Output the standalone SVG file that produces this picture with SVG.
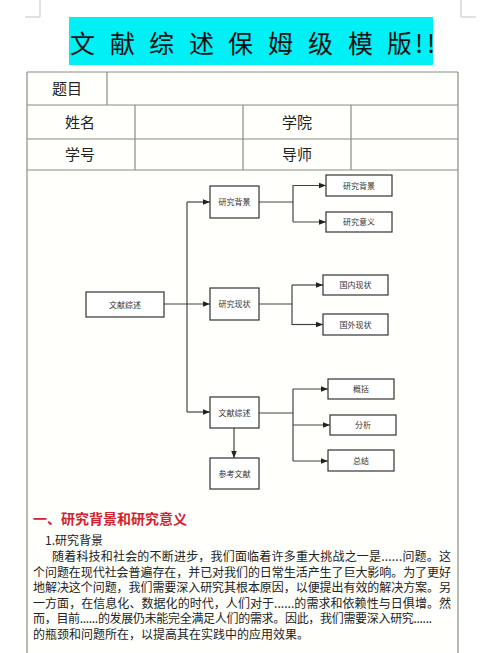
<svg xmlns="http://www.w3.org/2000/svg" width="500" height="653" viewBox="0 0 500 653">
<defs>
<marker id="arr" viewBox="0 0 8 8" refX="8" refY="4" markerWidth="7" markerHeight="7" markerUnits="userSpaceOnUse" orient="auto">
<path d="M0,0.8 L8,4 L0,7.2 z" fill="#222"/>
</marker>
</defs>
<style>
text{font-family:"Noto Sans CJK SC","Noto Sans",sans-serif;}
.mark{stroke:#c4c4c4;stroke-width:1;fill:none}
.tb{stroke:#8c8c84;stroke-width:1.2;fill:none}
.cell{font-size:15px;fill:#222;text-anchor:middle}
.box{fill:#fff;stroke:#333;stroke-width:1.2}
.bt{font-size:8px;fill:#333;text-anchor:middle}
.conn{stroke:#444;stroke-width:1.2;fill:none}
.ar{marker-end:url(#arr)}
.para{font-size:12px;fill:#222}
</style>
<rect width="500" height="653" fill="#fff"/>
<path class="mark" d="M40,0 V17 H25 M461,0 V17 H476"/>
<rect x="69" y="17" width="364" height="48" fill="#00f0f5"/>
<text x="70 110 149 189 228 268 308 348 387 415 427" y="53" font-size="25" fill="#111">文献综述保姆级模版!!</text>
<rect x="27" y="72" width="431" height="590" fill="#fffffc"/>
<path class="tb" d="M27,72 H458 M27,105 H458 M27,139 H458 M27,170 H458 M27,72 V653 M458,72 V653 M107,72 V105 M135,105 V170 M243,105 V170 M351,105 V170"/>
<text class="cell" x="67" y="94">题目</text>
<text class="cell" x="80" y="128">姓名</text>
<text class="cell" x="297" y="128">学院</text>
<text class="cell" x="80" y="160">学号</text>
<text class="cell" x="297" y="160">导师</text>
<g id="connectors">
<path class="conn" d="M187,202 V412"/>
<path class="conn ar" d="M164,304 H210"/>
<path class="conn ar" d="M187,202 H210"/>
<path class="conn ar" d="M187,412 H210"/>
<path class="conn" d="M259,202 H293 M293,185 V222"/>
<path class="conn ar" d="M293,185.5 H326"/>
<path class="conn ar" d="M293,222 H326"/>
<path class="conn" d="M259,304 H292 M292,285 V325"/>
<path class="conn ar" d="M292,285 H323"/>
<path class="conn ar" d="M292,324.5 H323"/>
<path class="conn" d="M259,413 H293 M293,389 V461"/>
<path class="conn ar" d="M293,389 H328"/>
<path class="conn ar" d="M293,425 H330"/>
<path class="conn ar" d="M293,461 H328"/>
<path class="conn ar" d="M234,428 V458"/>
</g>
<g id="n-root"><rect class="box" x="86" y="292" width="78" height="25"/><text class="bt" x="125" y="307.5">文献综述</text></g>
<g id="n-bg"><rect class="box" x="210" y="186" width="49" height="32"/><text class="bt" x="234.5" y="205">研究背景</text></g>
<g id="n-status"><rect class="box" x="210" y="288" width="49" height="32"/><text class="bt" x="234.5" y="307">研究现状</text></g>
<g id="n-review"><rect class="box" x="210" y="397" width="49" height="31"/><text class="bt" x="234.5" y="415.5">文献综述</text></g>
<g id="n-ref"><rect class="box" x="210" y="458" width="49" height="31"/><text class="bt" x="234.5" y="476.5">参考文献</text></g>
<g id="n-bg2"><rect class="box" x="326" y="175" width="66" height="21"/><text class="bt" x="359" y="188.5">研究背景</text></g>
<g id="n-meaning"><rect class="box" x="326" y="212" width="66" height="20"/><text class="bt" x="359" y="225">研究意义</text></g>
<g id="n-domestic"><rect class="box" x="323" y="275" width="65" height="20"/><text class="bt" x="355.5" y="288">国内现状</text></g>
<g id="n-foreign"><rect class="box" x="323" y="314" width="65" height="21"/><text class="bt" x="355.5" y="327.5">国外现状</text></g>
<g id="n-summary"><rect class="box" x="328" y="379" width="66" height="20"/><text class="bt" x="361" y="392">概括</text></g>
<g id="n-analysis"><rect class="box" x="330" y="415" width="66" height="20"/><text class="bt" x="363" y="428">分析</text></g>
<g id="n-conclusion"><rect class="box" x="328" y="450" width="66" height="21"/><text class="bt" x="361" y="463.5">总结</text></g>
<text x="33" y="524" font-size="14" font-weight="bold" fill="#d4222c" textLength="154">一、研究背景和研究意义</text>
<text class="para" x="45" y="545">1.研究背景</text>
<text class="para" x="52" y="561" textLength="399">随着科技和社会的不断进步，我们面临着许多重大挑战之一是......问题。这</text>
<text class="para" x="33" y="576.5" textLength="418">个问题在现代社会普遍存在，并已对我们的日常生活产生了巨大影响。为了更好</text>
<text class="para" x="33" y="592" textLength="418">地解决这个问题，我们需要深入研究其根本原因，以便提出有效的解决方案。另</text>
<text class="para" x="33" y="607.5" textLength="418">一方面，在信息化、数据化的时代，人们对于......的需求和依赖性与日俱增。然</text>
<text class="para" x="33" y="623" textLength="399">而，目前......的发展仍未能完全满足人们的需求。因此，我们需要深入研究......</text>
<text class="para" x="33" y="638.5">的瓶颈和问题所在，以提高其在实践中的应用效果。</text>
</svg>
